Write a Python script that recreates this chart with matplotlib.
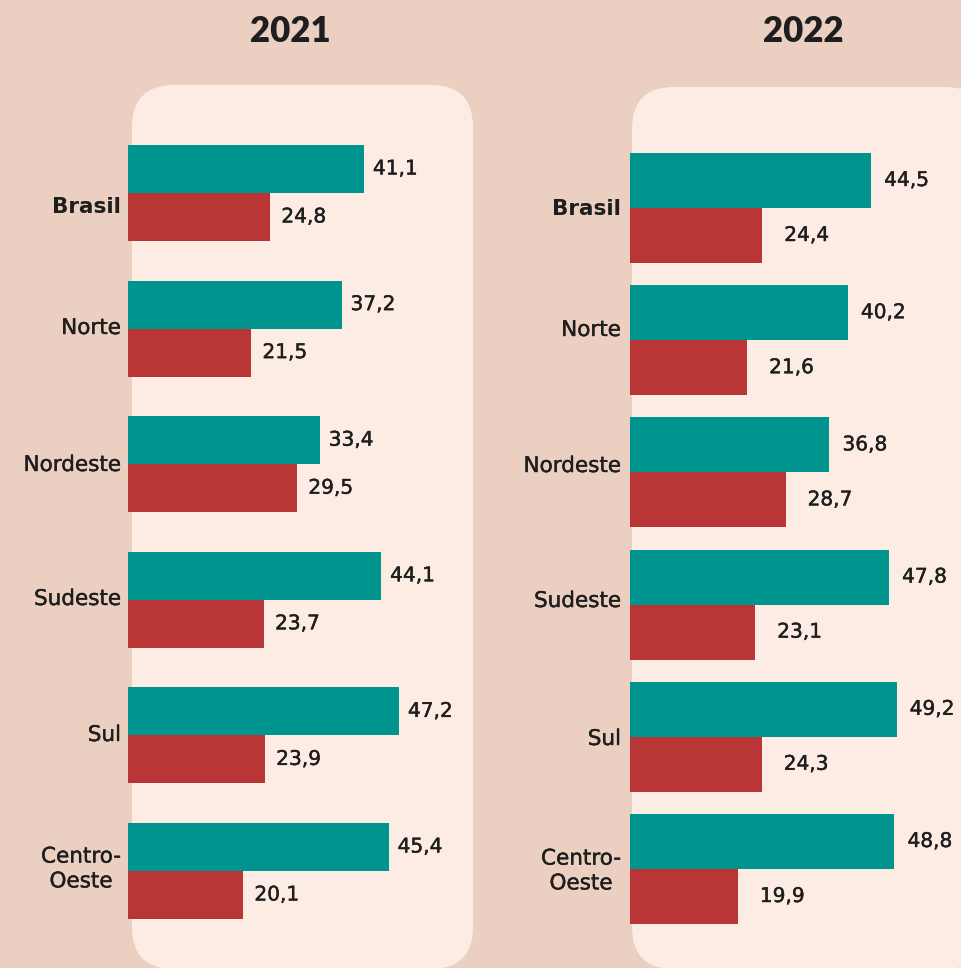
import matplotlib
matplotlib.use("Agg")
import matplotlib.pyplot as plt
import matplotlib.patheffects as pe
from matplotlib.patches import FancyBboxPatch

plt.rcParams['font.family'] = ['Lato', 'DejaVu Sans']

regions = ["Brasil", "Norte", "Nordeste", "Sudeste", "Sul", "Centro-\nOeste"]
years = ["2021", "2022"]
teal_2021 = [41.1, 37.2, 33.4, 44.1, 47.2, 45.4]
red_2021 = [24.8, 21.5, 29.5, 23.7, 23.9, 20.1]
teal_2022 = [44.5, 40.2, 36.8, 47.8, 49.2, 48.8]
red_2022 = [24.4, 21.6, 28.7, 23.1, 24.3, 19.9]

W, H = 962, 968
BG = "#EBCFC0"
PANEL = "#FDECE3"
TEAL = "#00948F"
RED = "#BA3536"
TXT = "#1E1E1E"

fig = plt.figure(figsize=(W / 100, H / 100), dpi=100, facecolor=BG)

def px_rect(x0, y0, x1, y1):
    return [x0 / W, 1 - y1 / H, (x1 - x0) / W, (y1 - y0) / H]

# rounded panels (behind everything)
panels = [(132, 85, 473, 969), (632, 87, 987, 969)]
for (x0, y0, x1, y1) in panels:
    r = 42
    p = FancyBboxPatch((x0 / W, 1 - y1 / H), (x1 - x0) / W, (y1 - y0) / H,
                       boxstyle=f"round,pad=0,rounding_size={r / W}",
                       transform=fig.transFigure, facecolor=PANEL,
                       edgecolor="none", zorder=-5,
                       mutation_aspect=W / H)
    fig.patches.append(p)

configs = [
    dict(x0=128, ppu=5.74, yb=193, sp=135.6, bh=48, lab=121, title=290,
         teal=teal_2021, red=red_2021, off_t=9, off_r=11,
         laby=[207, 328, 465, 599, 735, 869]),
    dict(x0=630, ppu=5.42, yb=208, sp=132.2, bh=55, lab=621, title=803,
         teal=teal_2022, red=red_2022, off_t=13, off_r=22,
         laby=[209, 330, 466, 601, 739, 871]),
]

embolden = [pe.withStroke(linewidth=0.3, foreground=TXT)]
NUMFONT = dict(family=['DejaVu Sans'], fontsize=14.5, path_effects=embolden)
LABFONT = dict(family=['DejaVu Sans'], fontsize=15.5)

for yr, c in zip(years, configs):
    xmax = 60
    top = c["yb"] - c["sp"] / 2
    bot = top + c["sp"] * 6
    ax = fig.add_axes(px_rect(c["x0"], top, c["x0"] + xmax * c["ppu"], bot))
    ax.set_zorder(1)
    ax.patch.set_visible(False)
    ax.set_xlim(0, xmax)
    ax.set_ylim(5.5, -0.5)
    ax.axis("off")
    h = c["bh"] / c["sp"]
    ys = list(range(len(regions)))
    ax.barh([y - h / 2 for y in ys], c["teal"], height=h, color=TEAL, zorder=2)
    ax.barh([y + h / 2 for y in ys], c["red"], height=h, color=RED, zorder=2)
    for y, tv, rv in zip(ys, c["teal"], c["red"]):
        ax.text(tv + c["off_t"] / c["ppu"], y - h / 2, f"{tv:.1f}".replace(".", ","),
                ha="left", va="center", color=TXT, **NUMFONT)
        ax.text(rv + c["off_r"] / c["ppu"], y + h / 2, f"{rv:.1f}".replace(".", ","),
                ha="left", va="center", color=TXT, **NUMFONT)
    lab_x = -(c["x0"] - c["lab"]) / c["ppu"]
    for name, ly in zip(regions, c["laby"]):
        bold = name == "Brasil"
        yd = (ly - top) / c["sp"] - 0.5
        ax.text(lab_x, yd, name, ha="right", va="center", color=TXT,
                fontweight="bold" if bold else "normal",
                path_effects=[] if bold else embolden,
                multialignment="center", linespacing=1.3,
                clip_on=False, **LABFONT)
    fig.text(c["title"] / W, 1 - 32 / H, yr, ha="center", va="center",
             fontsize=25, fontweight="heavy", color=TXT)

fig.savefig("out.png", dpi=100, facecolor=BG)
